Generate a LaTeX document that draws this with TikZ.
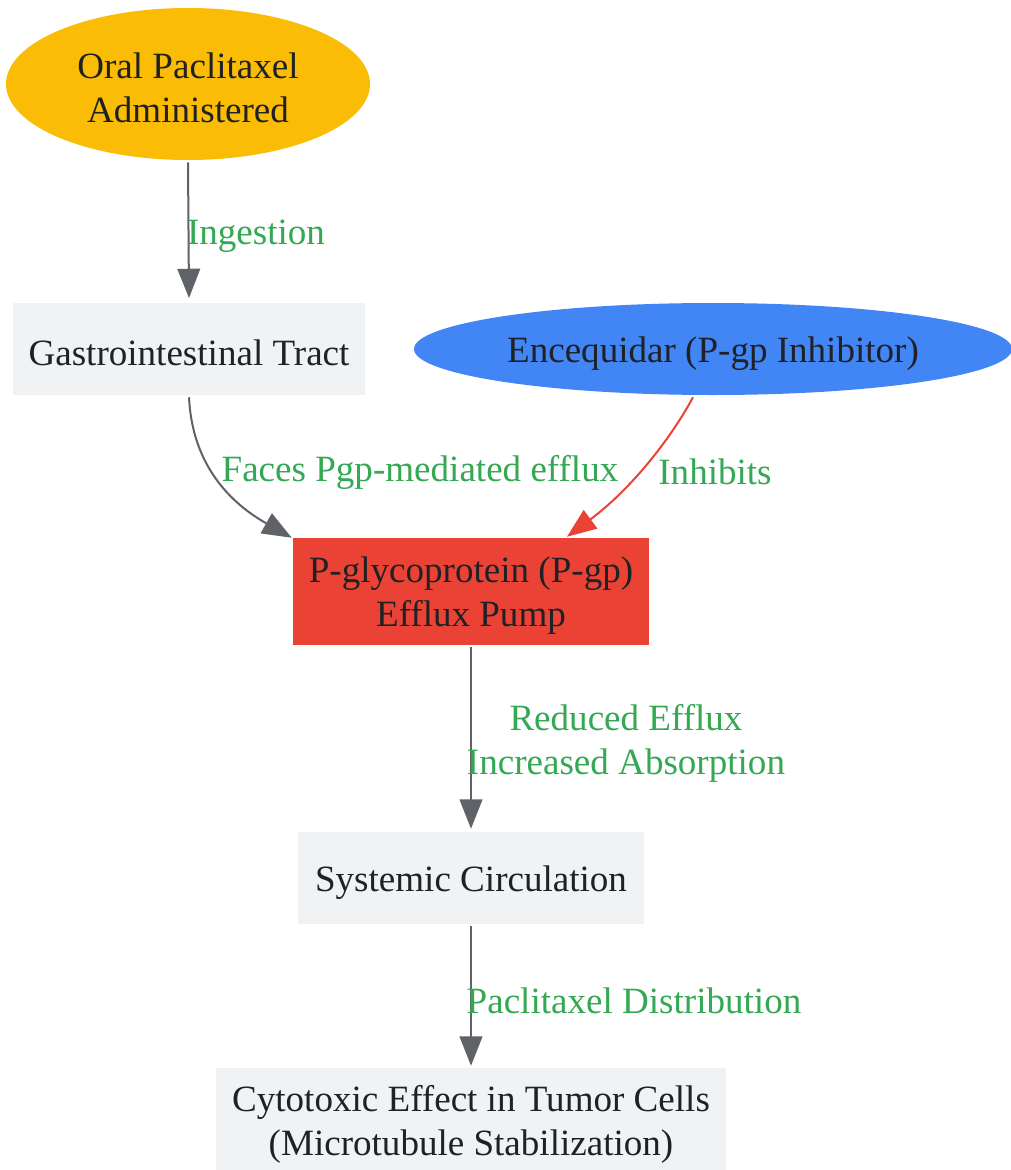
\documentclass[tikz,border=0pt]{standalone}
\usepackage{fontspec}
\setmainfont{Liberation Serif}
\usetikzlibrary{shapes.geometric,arrows.meta}
\definecolor{txt}{HTML}{202124}
\definecolor{boxgray}{HTML}{F1F2F4}
\definecolor{edgegray}{HTML}{5F6368}
\definecolor{lblgreen}{HTML}{34A853}
\definecolor{gold}{HTML}{FBBC05}
\definecolor{gblue}{HTML}{4285F4}
\definecolor{gred}{HTML}{EA4335}
\begin{document}
\begin{tikzpicture}[x=0.75pt,y=-0.75pt,
  every node/.style={font=\fontsize{27.8pt}{33pt}\selectfont, text=txt, align=center, inner sep=0pt},
  graybox/.style={rectangle, fill=boxgray},
  oval/.style={ellipse},
  txtlow/.style={yshift=-3.2pt},
  lbl/.style={text=lblgreen},
  edge/.style={draw=edgegray, line width=1.5pt, -{Triangle[length=22pt,width=17pt]}},
  redge/.style={draw=gred, line width=1.5pt, -{Triangle[length=22pt,width=17pt]}}
]
\useasboundingbox (0,0) rectangle (1010,1170);
\fill[white] (0,0) rectangle (1010,1170);

\node[oval, fill=gold, minimum width=273pt, minimum height=114pt,
  label={[txtlow]center:Oral Paclitaxel\\Administered}] (oral) at (188,84) {};
\node[graybox, minimum width=264pt, minimum height=69pt,
  label={[txtlow]center:Gastrointestinal Tract}] (gi) at (189,349) {};
\node[oval, fill=gblue, minimum width=448.5pt, minimum height=69pt,
  label={[txtlow]center:Encequidar (P-gp Inhibitor)}] (enc) at (713,349) {};
\node[rectangle, fill=gred, minimum width=267pt, minimum height=80.25pt,
  label={[txtlow]center:P-glycoprotein (P-gp)\\Efflux Pump}] (pgp) at (471,591.5) {};
\node[graybox, minimum width=259.5pt, minimum height=69pt,
  label={[txtlow]center:Systemic Circulation}] (sys) at (471,878) {};
\node[graybox, minimum width=382.5pt, minimum height=78pt,
  label={[txtlow]center:Cytotoxic Effect in Tumor Cells\\(Microtubule Stabilization)}] (cyt) at (471,1120) {};

\draw[edge] ([yshift=-1.5pt]oral.south) -- ([yshift=3.5pt]gi.north);
\draw[edge] ([yshift=-1.5pt]gi.south) .. controls (192,460) and (225,500) .. ([xshift=-0.75pt]pgp.north west);
\draw[redge] ([xshift=-15pt,yshift=-1.5pt]enc.south) .. controls (670,440) and (630,490) .. ([xshift=72pt,yshift=0.75pt]pgp.north);
\draw[edge] ([yshift=-1.5pt]pgp.south) -- ([yshift=2.25pt]sys.north);
\draw[edge] ([yshift=-1.5pt]sys.south) -- ([yshift=1.5pt]cyt.north);

\node[lbl] (l1) at (256,236) {Ingestion};
\node[lbl] (l2) at (420,472) {Faces Pgp-mediated efflux};
\node[lbl] (l3) at (715,472) {Inhibits};
\node[lbl] (l4) at (626,743) {Reduced Efflux\\Increased Absorption};
\node[lbl] (l5) at (634,1001) {Paclitaxel Distribution};
\end{tikzpicture}
\end{document}
